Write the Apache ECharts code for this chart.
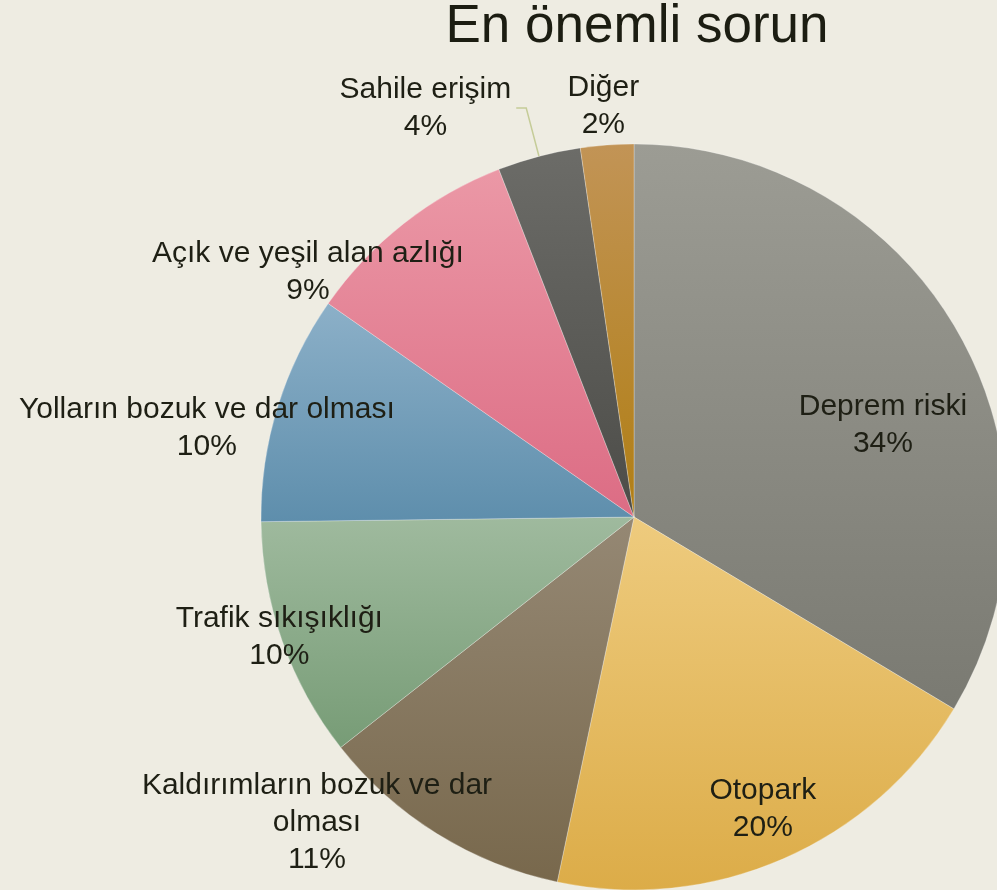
<!DOCTYPE html>
<html>
<head>
	<meta charset="utf-8">
	<title></title>
	<script src="https://cdn.jsdelivr.net/npm/echarts@6/dist/echarts.min.js"></script>
	<style>
		html, body { margin: 0; padding: 0; background: #EEECE2; }
	</style>
</head>
<body>
	<div id="main" style="width: 997px;height:890px;"></div>
	<script type="text/javascript">
		// kategoriler ve yüzdeler
		var categories = ['Deprem riski', 'Otopark', 'Kaldırımların bozuk ve dar\nolması', 'Trafik sıkışıklığı',
			'Yolların bozuk ve dar olması', 'Açık ve yeşil alan azlığı', 'Sahile erişim', 'Diğer'];
		var values = [33.6, 19.7, 11.1, 10.4, 9.9, 9.4, 3.6, 2.3];

		// dilim renkleri (üst -> alt gradyan)
		var topColors = ['#9c9c94', '#eecb7e', '#958874', '#9fba9e', '#8cb0c8', '#eb98a6', '#6c6c68', '#c29456'];
		var bottomColors = ['#7a7a72', '#dcac48', '#78684c', '#779c76', '#5e8eac', '#dc6c84', '#4c4c48', '#b07e14'];

		// etiket kaydırmaları (Excel "en uygun" yerleşimine benzetmek için)
		var labelShift = [[84, 2], [53, 119], [-217, 145], [-176, 57], [-246, -33], [-209, -96], [0, 0], [-17, -222]];

		var myChart = echarts.init(document.getElementById('main'));

		var data = [];
		for (var i = 0; i < categories.length; i++) {
			var item = {
				name: categories[i],
				value: values[i],
				itemStyle: {
					color: new echarts.graphic.LinearGradient(0, 0, 0, 1, [
						{offset: 0, color: topColors[i]},
						{offset: 1, color: bottomColors[i]}
					])
				}
			};
			if (categories[i] === 'Sahile erişim') {
				item.label = {position: 'outside'};
				item.labelLine = {show: true, length: 50, length2: 10};
			}
			data.push(item);
		}

		var option = {
			backgroundColor: '#EEECE2',
			title: {
				text: 'En önemli sorun',
				left: 632,
				textAlign: 'center',
				top: -4,
				textStyle: {
					fontFamily: 'Liberation Sans',
					fontSize: 53,
					fontWeight: 'normal',
					color: '#1c1d12'
				}
			},
			series: [
				{
					type: 'pie',
					center: [634, 517],
					radius: 373,
					startAngle: 90,
					clockwise: true,
					avoidLabelOverlap: false,
					animation: false,
					data: data,
					itemStyle: {
						borderColor: 'rgba(255,255,255,0.45)',
						borderWidth: 0.6
					},
					label: {
						show: true,
						position: 'inside',
						formatter: function (p) {
							return '{c|' + p.name + '}\n{c|' + Math.round(p.percent) + '%}';
						},
						rich: {
							c: {
								align: 'center',
								fontFamily: 'Liberation Sans',
								fontSize: 30,
								lineHeight: 37,
								color: '#1e1f14'
							}
						}
					},
					labelLine: {
						show: false,
						lineStyle: {
							color: '#c5cc98',
							width: 1.5
						}
					},
					labelLayout: function (params) {
						var s = labelShift[params.dataIndex];
						return {dx: s[0], dy: s[1]};
					}
				}
			]
		};

		myChart.setOption(option);
	</script>
</body>
</html>
